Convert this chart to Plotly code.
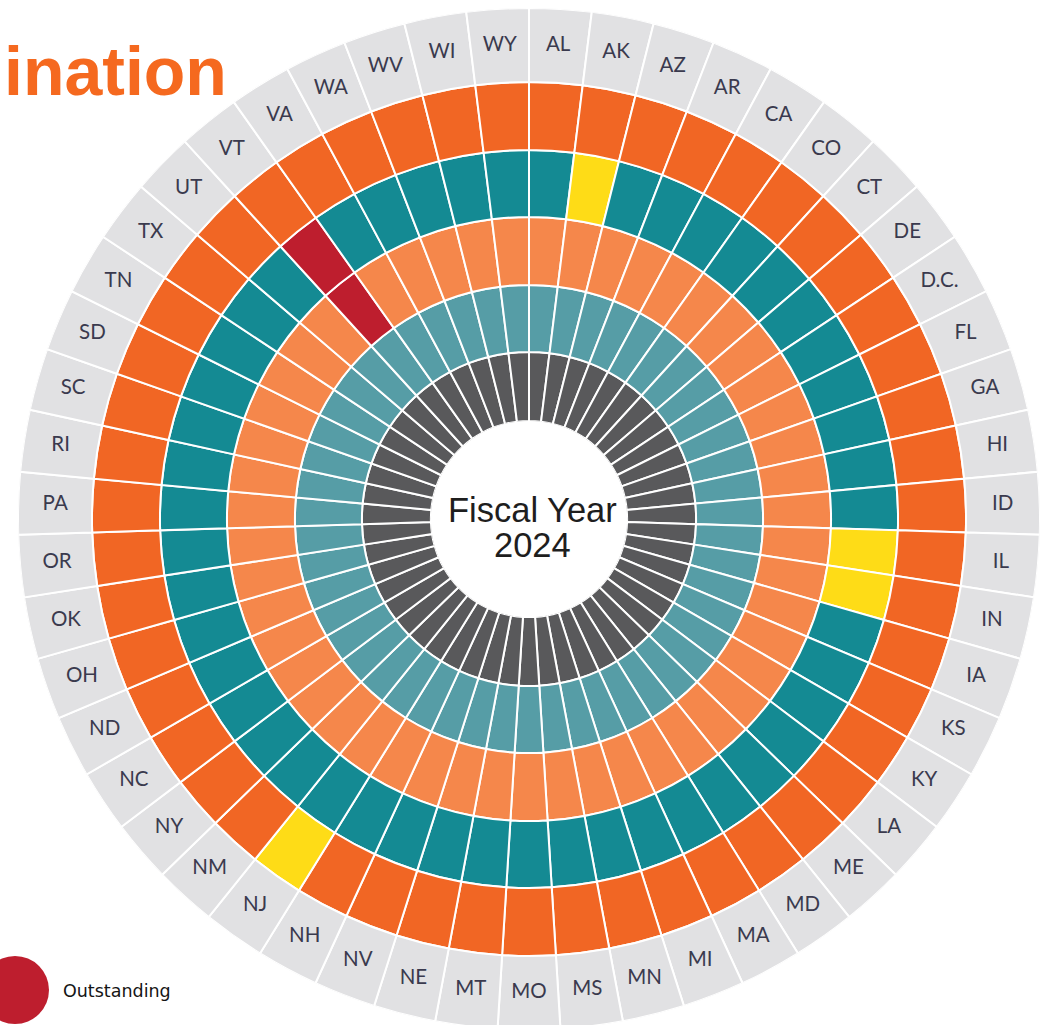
import plotly.graph_objects as go

W, H = 1043, 1030   # figure slightly taller than the window: bottom of the ring is cut off as in the reference

# ---------------- data ----------------
states = ["AL", "AK", "AZ", "AR", "CA", "CO", "CT", "DE", "D.C.", "FL", "GA", "HI",
          "ID", "IL", "IN", "IA", "KS", "KY", "LA", "ME", "MD", "MA", "MI", "MN",
          "MS", "MO", "MT", "NE", "NV", "NH", "NJ", "NM", "NY", "NC", "ND", "OH",
          "OK", "OR", "PA", "RI", "SC", "SD", "TN", "TX", "UT", "VT", "VA", "WA",
          "WV", "WI", "WY"]

# ring ratings, inner -> outer (default rating + exceptions per state)
ring_default = ["dark", "lightteal", "lightorange", "teal", "orange"]
ring_exceptions = [
    {},
    {},
    {"VT": "red"},
    {"AK": "yellow", "IL": "yellow", "IN": "yellow", "VT": "red"},
    {"NJ": "yellow"},
]

title_fragment = "ination"
center_line1 = "Fiscal Year"
center_line2 = "2024"
legend_label = "Outstanding"

# ---------------- style ----------------
palette = {
    "dark": "#59595b",
    "lightteal": "#569da6",
    "lightorange": "#f5874b",
    "teal": "#148a93",
    "orange": "#f16624",
    "yellow": "#fedc17",
    "red": "#be1e2e",
    "label": "#e1e1e3",
}
edges = [0, 69, 136, 204, 271, 339, 413]   # ring boundaries (radial units)

fig = go.Figure()

for i, default in enumerate(ring_default):
    cols = [palette[ring_exceptions[i].get(s, default)] for s in states]
    fig.add_trace(go.Barpolar(
        r=[edges[i + 1] - edges[i]] * len(states),
        base=[edges[i]] * len(states),
        theta=states,
        marker=dict(color=cols, line=dict(color="white", width=2)),
        hoverinfo="theta",
        showlegend=False,
    ))

# outer label ring
fig.add_trace(go.Barpolar(
    r=[edges[6] - edges[5]] * len(states),
    base=[edges[5]] * len(states),
    theta=states,
    marker=dict(color=palette["label"], line=dict(color="white", width=2)),
    hoverinfo="skip",
    showlegend=False,
))

fig.add_trace(go.Scatterpolar(
    r=[(edges[5] + edges[6]) / 2] * len(states),
    theta=states,
    mode="text",
    text=states,
    textfont=dict(family="Lato", size=20.5, color="#3a3a4e"),
    hoverinfo="skip",
    showlegend=False,
))


def px(x):
    return x / W


def py(y):
    return 1 - y / H


fig.update_layout(
    width=W, height=H,
    margin=dict(l=0, r=0, t=0, b=0),
    paper_bgcolor="white",
    plot_bgcolor="white",
    polar=dict(
        domain=dict(x=[px(18), px(1040)], y=[0, py(8)]),
        hole=0.192,
        bargap=0,
        bgcolor="white",
        radialaxis=dict(range=[0, edges[-1]], visible=False),
        angularaxis=dict(direction="clockwise", rotation=90 - 180 / len(states),
                         showgrid=False, showticklabels=False, showline=False,
                         ticks=""),
    ),
    annotations=[
        dict(text=center_line1, x=px(532), y=py(510), xref="paper", yref="paper",
             showarrow=False, xanchor="center", yanchor="middle",
             font=dict(family="Liberation Sans", size=34.5, color="#1e1e1e")),
        dict(text=center_line2, x=px(532), y=py(545), xref="paper", yref="paper",
             showarrow=False, xanchor="center", yanchor="middle",
             font=dict(family="Liberation Sans", size=34.5, color="#1e1e1e")),
        dict(text="<b>" + title_fragment + "</b>", x=px(2), y=py(71), xref="paper",
             yref="paper", showarrow=False, xanchor="left", yanchor="middle",
             font=dict(family="Liberation Sans", size=68, color="#f5691f")),
        dict(text=legend_label, x=px(61), y=py(991), xref="paper", yref="paper",
             showarrow=False, xanchor="left", yanchor="middle",
             font=dict(family="DejaVu Sans", size=17.5, color="#151515")),
    ],
    shapes=[
        dict(type="circle", xref="paper", yref="paper",
             x0=px(15 - 34), x1=px(15 + 34), y0=py(990 + 34), y1=py(990 - 34),
             fillcolor=palette["red"], line=dict(width=0)),
    ],
)

fig.write_html(
    "out.html",
    config={"displayModeBar": False},
    post_script=("document.body.style.margin='0px';"
                 "document.body.style.overflow='hidden';"
                 "document.documentElement.style.overflow='hidden';"),
)
